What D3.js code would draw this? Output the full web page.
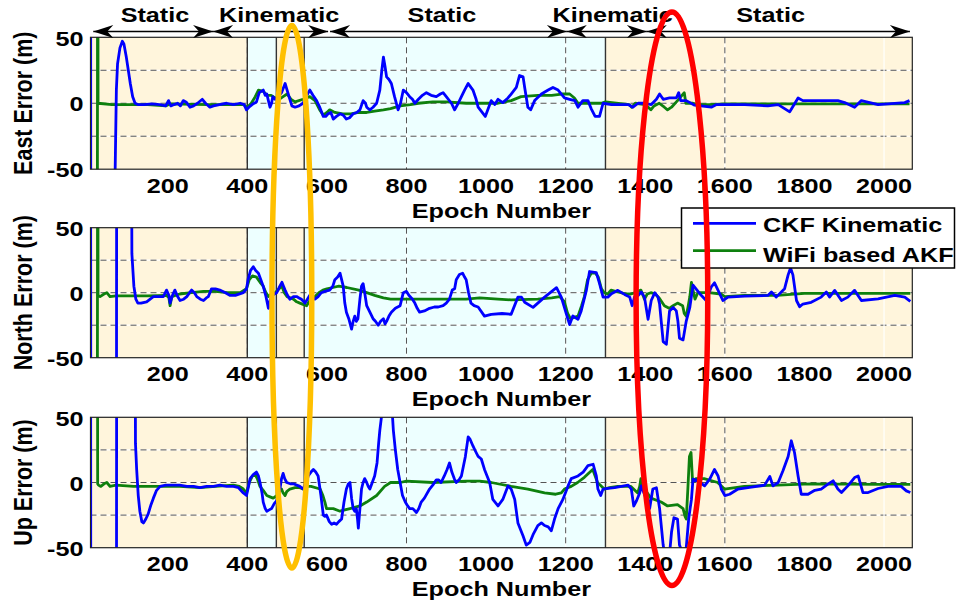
<!DOCTYPE html>
<html>
<head>
<meta charset="utf-8">
<script src="https://cdn.jsdelivr.net/npm/d3@7"></script>
<style>
  html, body { margin: 0; padding: 0; background: #fff; }
  svg { display: block; }
  text { font-family: "Liberation Sans", Arial, Helvetica, sans-serif; font-weight: bold; fill: #000; }
</style>
</head>
<body>
<svg id="chart" width="956" height="604"></svg>
<script>
// ---- data ---------------------------------------------------------------
const epochTicks = [200, 400, 600, 800, 1000, 1200, 1400, 1600, 1800, 2000];
const errorTicks = [-50, 0, 50];
const gridErrors = [-25, 0, 25];
const gridEpochs = [400, 800, 1200, 1600];
const faintGridEpochs = [2000];

// test phases (shaded spans)
const phaseBreaks = [6, 400, 473, 543, 1300, 2071];
const phaseKinds = ["static", "kinematic", "static", "kinematic", "static"];

// arrows above the first panel
const arrowNames = ["Static", "Kinematic", "Static", "Kinematic", "Static"];
const arrowFrom = [13, 314, 608, 1203, 1404];
const arrowTo = [314, 603, 1203, 1404, 2065];
const arrowLabelAt = [168, 480, 889, 1318, 1715];

const seriesNames = ["CKF Kinematic", "WiFi based AKF"];
const panelTitles = ["East Error (m)", "North Error (m)", "Up Error (m)"];

// East error [epoch, metres]
const eastCKF = [[6,300],[7,-300],[66,-300],[68,-50],[71,10],[74,30],[80,42],[86,47],[90,45],[96,35],[101,25],[106,15],[112,5],[118,0],[125,-1],[140,-1],[160,-0.5],[180,-1],[195,-2],[202,2],[208,-2],[216,-1],[225,0],[232,-2],[239,2],[246,1],[256,-3],[265,-2],[275,0],[287,3],[295,0],[306,-3],[315,-2],[330,-1],[348,0],[365,-1],[382,0],[392,-1],[398,-5],[404,-3],[412,-1],[423,1],[430,8],[440,10],[445,6],[449,7],[453,2],[457,-3],[461,0],[464,5],[470,3],[478,5],[486,8],[495,15],[500,10],[507,3],[512,-2],[520,-3],[530,-2],[540,0],[548,5],[557,10],[565,6],[574,2],[582,-3],[591,-10],[597,-10],[603,-8],[610,-7],[616,-12],[624,-10],[633,-8],[641,-9],[649,-12],[657,-11],[666,-8],[675,-7],[683,-5],[691,2],[697,0],[700,-3],[708,-5],[716,-3],[725,0],[733,10],[738,25],[742,35],[746,28],[750,20],[756,18],[762,15],[770,5],[779,-5],[785,0],[792,10],[800,8],[808,5],[815,3],[821,0],[830,3],[840,6],[850,8],[862,6],[875,5],[885,7],[892,8],[900,5],[913,0],[921,-5],[930,0],[938,5],[946,10],[955,15],[962,12],[967,10],[975,3],[980,-3],[998,-10],[1013,2],[1022,-1],[1030,3],[1042,0.5],[1055,4],[1063,7],[1076,12],[1084,21],[1093,20],[1097,12],[1105,-3],[1112,-5],[1122,2],[1139,7],[1156,10],[1168,12],[1181,10],[1197,4],[1210,3],[1223,2],[1231,-3],[1243,2],[1256,2],[1264,-4],[1274,-10],[1285,-10],[1294,0],[1315,-1],[1357,-1],[1369,-3],[1382,0],[1399,0],[1415,-1],[1428,3],[1436,7],[1445,3],[1461,4],[1478,4],[1484,8],[1489,2],[1503,2],[1524,-1.5],[1566,-3],[1579,-1],[1650,-1],[1708,-2],[1734,-1],[1763,-6.5],[1784,4],[1796,2],[1842,2],[1884,2],[1901,0.5],[1926,-3],[1943,2],[1985,-1],[2052,0.5],[2064,2]];
const eastAKF = [[6,-300],[23,-300],[24,300],[25,0],[60,-1],[150,-1],[195,-2],[205,-0.5],[300,-1],[390,-1],[400,-3],[410,0],[420,5],[428,10],[440,9],[450,6],[460,6],[470,4],[480,3],[490,5],[500,7],[510,3],[520,1],[540,3],[557,5],[570,2],[582,-5],[591,-9],[600,-7],[607,-5],[620,-7],[640,-8],[660,-8],[680,-7],[700,-7],[720,-6],[742,-5],[760,-4],[784,-2],[810,-1],[830,0],[866,1],[900,1],[950,0],[1030,0],[1063,2],[1088,5],[1130,6],[1165,6],[1190,7],[1210,7],[1222,4],[1231,0],[1290,0],[1300,1],[1360,-1],[1366,-3],[1375,0],[1400,-1],[1414,-5],[1422,-2],[1435,0],[1448,-3],[1456,-5],[1466,-3],[1481,2],[1498,8],[1502,0],[1520,0],[1532,-1],[1560,-1],[1600,-0.5],[2064,-0.5]];

// North error [epoch, metres]
const northCKF = [[6,300],[7,-300],[71,-300],[72,300],[107,300],[110,30],[115,5],[120,-5],[125,-8],[133,-8],[147,-7],[164,-3],[180,-3],[189,-3],[197,2],[203,-2],[206,-8],[212,-2],[218,2],[225,-3],[231,-6],[240,-5],[248,-3],[255,0],[260,2],[267,0],[273,-3],[282,-5],[290,-6],[297,-4],[302,-3],[306,0],[310,3],[320,3],[331,2],[345,0],[356,-2],[370,-2],[390,0],[398,3],[402,10],[408,17],[415,20],[421,17],[428,15],[434,10],[440,5],[447,-3],[453,-12],[457,-6],[461,-3],[468,-1],[474,0],[480,4],[487,8],[491,5],[495,2],[501,-2],[507,-5],[516,-3],[524,-3],[530,-4],[536,-5],[545,-8],[551,-5],[557,-2],[563,-4],[570,-5],[578,-3],[586,0],[595,1],[607,2],[615,5],[620,10],[627,12],[633,15],[637,10],[641,5],[645,-8],[649,-15],[655,-20],[662,-28],[666,-22],[670,-18],[674,-22],[678,-20],[683,-5],[687,5],[691,7],[695,0],[700,-10],[708,-15],[716,-20],[722,-22],[729,-25],[735,-22],[742,-20],[746,-24],[750,-22],[756,-18],[762,-15],[772,-12],[784,-10],[788,-5],[792,0],[800,1],[806,-2],[815,-5],[821,-8],[827,-12],[833,-15],[845,-14],[858,-12],[870,-11],[880,-11],[892,-10],[900,-8],[908,-5],[915,2],[921,3],[925,10],[933,14],[941,15],[946,12],[950,10],[956,0],[962,-8],[970,-10],[980,-11],[996,-18],[1013,-16.6],[1040,-16],[1063,-16.6],[1080,-3.4],[1089,-3.4],[1097,-7.4],[1118,-11.3],[1147,-3.4],[1177,3.9],[1189,-3.4],[1202,-16.6],[1210,-24.5],[1218,-17.9],[1231,-20.5],[1239,-14],[1252,1.8],[1260,16.3],[1277,15.5],[1285,7.1],[1294,-3.4],[1306,-3.4],[1315,-0.8],[1331,1.8],[1348,-1.3],[1361,-3.4],[1367,-10],[1373,-3.4],[1382,-2.1],[1390,0.5],[1398,-3.4],[1407,-20.5],[1415,-6],[1424,0],[1432,-3.4],[1436,-8.7],[1445,-37.6],[1453,-39.7],[1461,-14],[1470,-11.3],[1478,-14],[1482,-21.8],[1486,-35],[1495,-36.3],[1503,-21.8],[1512,-11.3],[1520,5.8],[1537,-0.8],[1553,-6],[1566,4.5],[1574,7.6],[1583,1.8],[1595,-6],[1608,-3.4],[1650,-2.6],[1708,-2.1],[1717,0.5],[1729,-3.4],[1750,3],[1759,13.7],[1765,19],[1771,13.7],[1780,-6],[1788,-10.8],[1796,-8.7],[1817,-7.4],[1842,-3.4],[1855,0.5],[1863,-3.4],[1876,1.8],[1893,-6],[1909,-3.4],[1926,1.8],[1943,-6],[1985,-4.7],[2027,-2.1],[2052,-3.4],[2066,-6.6]];
const northAKF = [[6,-300],[23,-300],[24,300],[25,-2],[30,-3],[40,-1],[47,0],[55,-3],[70,-2.5],[150,-2.5],[197,-2],[203,-4],[206,-10],[210,-3],[230,-1],[260,0],[290,1],[320,1],[350,0],[382,0],[398,3],[405,10],[413,13],[423,12],[432,8],[440,5],[447,0],[453,-3],[460,-1],[470,0],[480,3],[487,5],[493,0],[500,-3],[508,-4],[516,-5],[524,-7],[532,-8],[540,-9],[549,-10],[555,-7],[561,-5],[570,-3],[580,0],[590,2],[600,3],[615,4],[630,5],[650,4],[680,2],[700,0],[720,-2],[742,-4],[760,-5],[800,-5],[866,-5],[950,-5],[984,-4],[1030,-5],[1063,-5.5],[1130,-5],[1165,-4],[1185,-3],[1197,-7],[1205,-16],[1212,-20],[1222,-19],[1231,-18],[1240,-10],[1247,-3],[1255,10],[1264,15],[1275,15],[1282,12],[1290,3],[1297,0],[1306,-1],[1314,2],[1325,1],[1339,0],[1350,-1],[1364,-1],[1375,0],[1389,2],[1393,-1],[1398,-5],[1405,-1],[1414,0],[1425,-1],[1435,-4],[1448,-10],[1460,-12],[1470,-10],[1481,-8],[1494,-10],[1498,-16],[1503,-18],[1508,-10],[1512,-3],[1516,8],[1520,2],[1525,-5],[1532,0],[1560,0],[1590,-1],[1600,-3],[1650,-2],[1732,-2],[1800,-0.5],[1900,-0.5],[2066,-0.5]];

// Up error [epoch, metres]
const upCKF = [[6,300],[7,-300],[71,-300],[72,300],[117,300],[119,30],[122,10],[126,-10],[130,-22],[135,-30],[139,-31],[145,-28],[151,-24],[158,-17],[164,-12],[172,-6],[181,-3],[195,-2],[214,-2],[230,-2],[248,-3],[265,-3],[281,-4],[298,-3],[315,-3],[331,-2],[348,-3],[365,-3],[378,-4],[390,-8],[398,-10],[403,-3],[407,3],[415,6],[423,8],[428,5],[432,0],[437,-8],[440,-15],[445,-20],[449,-22],[455,-21],[461,-20],[468,-16],[474,-14],[478,-10],[482,-5],[486,3],[490,7],[494,3],[499,0],[508,-1],[516,-1],[524,-2],[532,-3],[540,-5],[548,0],[553,5],[560,8],[566,10],[572,8],[578,5],[585,-10],[591,-25],[595,-26],[599,-25],[606,-30],[612,-32],[618,-31],[624,-32],[630,-30],[637,-28],[643,-15],[649,-5],[654,-1],[658,0],[662,-12],[666,-20],[670,-22],[674,-20],[677,-28],[679,-35],[683,-20],[687,-5],[691,0],[695,3],[700,0],[704,-3],[708,-5],[714,0],[720,5],[726,15],[730,30],[733,40],[737,50],[742,60],[762,60],[765,50],[767,40],[772,25],[778,10],[784,0],[790,-10],[797,-15],[803,-18],[808,-20],[816,-20],[825,-23],[831,-20],[837,-15],[845,-12],[858,-5],[866,-2],[875,2],[881,2],[887,0],[895,5],[902,10],[908,15],[914,8],[920,3],[925,0],[932,2],[938,5],[948,20],[955,35],[960,33],[967,28],[975,23],[980,20],[988,18],[996,10],[1009,0],[1017,-13],[1030,-18],[1042,-13],[1055,-2.6],[1063,-5],[1072,-13],[1080,-31],[1093,-41],[1101,-48],[1110,-46],[1118,-40],[1130,-33],[1139,-31],[1147,-33],[1156,-34],[1164,-37],[1172,-28],[1181,-20],[1193,-13],[1206,-2.6],[1214,3],[1231,5],[1244,8],[1256,13],[1269,14],[1277,5],[1281,-5],[1288,-10],[1294,-5],[1306,-4.5],[1323,-4],[1340,-3],[1357,-2],[1365,-5],[1371,-18],[1378,-14],[1386,-8],[1390,-2.6],[1399,-10],[1407,-13],[1411,-20],[1419,-5],[1428,-4],[1436,-20],[1445,-48],[1449,-55],[1461,-55],[1466,-38],[1472,-27],[1481,-28],[1486,-48],[1495,-55],[1503,-50],[1509,-28],[1516,-13],[1520,2.6],[1533,1.3],[1549,-2.6],[1562,2.6],[1574,10],[1583,5],[1591,-5],[1600,-10],[1612,-9],[1633,-5],[1658,-4],[1700,-2],[1713,4.6],[1721,-2.6],[1734,0],[1746,9],[1759,20],[1767,32],[1775,23],[1784,5],[1792,-9],[1809,-9],[1826,-6],[1842,-5],[1859,-1.3],[1872,1.3],[1884,-5],[1893,-7.7],[1909,-2.6],[1926,3.8],[1935,5],[1947,-7.7],[1960,-7.7],[1985,-4.6],[2010,-3],[2043,-3],[2056,-6.4],[2066,-7.7]];
const upAKF = [[6,300],[23,300],[24,-1],[26,-2],[32,-3],[40,-1],[47,0],[55,-3],[70,-2],[114,-3],[197,-3],[230,-3],[281,-4],[320,-3],[365,-2],[380,-3],[390,-5],[398,-8],[405,0],[413,5],[420,6],[425,3],[432,-3],[440,-6],[449,-10],[457,-11],[465,-12],[474,-10],[480,-7],[486,-5],[490,-8],[495,-10],[499,-7],[507,-5],[520,-4],[532,-4],[540,-5],[549,-3],[560,-3],[583,-5],[590,-10],[595,-15],[599,-20],[616,-20],[633,-22],[645,-21],[658,-20],[683,-18],[700,-15],[725,-10],[745,-3],[760,0],[784,0],[800,1],[866,0],[950,1],[984,1],[1013,0],[1063,-3],[1105,-5],[1147,-8],[1175,-9],[1189,-8],[1197,-5],[1214,-3],[1230,0],[1247,4],[1268,10],[1280,0],[1297,-5],[1310,-4],[1331,-3],[1364,-3],[1381,-8],[1386,-3],[1389,3],[1394,-3],[1414,-12],[1440,-15],[1456,-18],[1481,-17],[1495,-20],[1500,-26],[1503,-28],[1507,-5],[1511,20],[1515,23],[1519,0],[1527,3],[1548,3],[1582,0],[1599,-5],[1649,-3],[1732,-2],[1816,-1],[1984,-1.5],[2066,-1.5]];

// highlighted epoch spans (ellipse centre / half-width in epochs)
const highlightCentre = [512, 1467];
const highlightHalfWidth = [50, 90];
const highlightColours = ["#FFC000", "#FF0000"];

// ---- layout -------------------------------------------------------------
const svg = d3.select("#chart");
const FONT = 21, STRETCH = 1.2;
const colours = { ckf: "#0000FF", akf: "#0E800E", static: "#FFF5DC", kinematic: "#EDFFFF" };

const x = d3.scaleLinear().domain([6, 2071]).range([90.5, 912.3]);

const panels = [
  { title: panelTitles[0], top: 37.3, bottom: 169.2, ckf: eastCKF, akf: eastAKF },
  { title: panelTitles[1], top: 227.7, bottom: 357.7, ckf: northCKF, akf: northAKF },
  { title: panelTitles[2], top: 417.3, bottom: 547.7, ckf: upCKF, akf: upAKF }
];

// text helper: bold, slightly wide lettering
function label(g, str, px, py, anchor, size, rotate) {
  return g.append("text")
    .attr("transform", `translate(${px},${py}) scale(${STRETCH},1)` + (rotate ? " rotate(-90)" : ""))
    .attr("text-anchor", anchor)
    .attr("font-size", size || FONT)
    .text(str);
}

panels.forEach((p, i) => {
  const y = d3.scaleLinear().domain([-50, 50]).range([p.bottom, p.top]);
  const g = svg.append("g");
  const [x0, x1] = x.range();

  // phase shading
  phaseKinds.forEach((k, j) => {
    g.append("rect")
      .attr("x", x(phaseBreaks[j])).attr("y", p.top)
      .attr("width", x(phaseBreaks[j + 1]) - x(phaseBreaks[j]))
      .attr("height", p.bottom - p.top)
      .attr("fill", colours[k]);
  });

  // grid
  const grid = g.append("g");
  gridErrors.forEach(v => {
    grid.append("line").attr("x1", x0).attr("x2", x1).attr("y1", y(v)).attr("y2", y(v))
      .attr("stroke", "#fff").attr("stroke-width", 1.2);
    grid.append("line").attr("x1", x0).attr("x2", x1).attr("y1", y(v)).attr("y2", y(v))
      .attr("stroke", "#555").attr("stroke-width", 1).attr("stroke-dasharray", "6,4");
  });
  faintGridEpochs.concat(gridEpochs).forEach(e => {
    grid.append("line").attr("x1", x(e)).attr("x2", x(e)).attr("y1", p.top).attr("y2", p.bottom)
      .attr("stroke", "#fff").attr("stroke-width", 1.2);
  });
  gridEpochs.forEach(e => {
    grid.append("line").attr("x1", x(e)).attr("x2", x(e)).attr("y1", p.top).attr("y2", p.bottom)
      .attr("stroke", "#555").attr("stroke-width", 1).attr("stroke-dasharray", "6,4");
  });

  // phase boundaries
  phaseBreaks.slice(1, -1).forEach(e => {
    g.append("line").attr("x1", x(e)).attr("x2", x(e)).attr("y1", p.top).attr("y2", p.bottom)
      .attr("stroke", "#333").attr("stroke-width", 1.4);
  });

  // series
  const clipId = "clip" + i;
  svg.append("clipPath").attr("id", clipId).append("rect")
    .attr("x", x0).attr("y", p.top).attr("width", x1 - x0).attr("height", p.bottom - p.top);
  const line = d3.line().x(d => x(d[0])).y(d => y(d[1]));
  const lines = g.append("g").attr("clip-path", `url(#${clipId})`);
  lines.append("path").datum(p.akf).attr("d", line)
    .attr("fill", "none").attr("stroke", colours.akf).attr("stroke-width", 2.8)
    .attr("stroke-linejoin", "round");
  lines.append("path").datum(p.ckf).attr("d", line)
    .attr("fill", "none").attr("stroke", colours.ckf).attr("stroke-width", 2.8)
    .attr("stroke-linejoin", "round");

  // frame
  g.append("rect").attr("x", x0).attr("y", p.top).attr("width", x1 - x0).attr("height", p.bottom - p.top)
    .attr("fill", "none").attr("stroke", "#222").attr("stroke-width", 1.2);

  // tick labels
  errorTicks.forEach(v => label(g, String(v), 83.5, y(v) + 8.2, "end"));
  epochTicks.forEach(e => label(g, String(e), x(e), p.bottom + 23.5, "middle"));

  // axis titles
  label(g, "Epoch Number", (x0 + x1) / 2, p.bottom + 48.5, "middle");
  label(g, p.title, 31.5, (p.top + p.bottom) / 2, "middle", 21.5, true);
});

// phase arrows above the first panel
const arrowY = 31.5;
const arrows = svg.append("g");
function head(px, dir) {
  // dir = +1 points right, -1 points left
  const L = 20, H = 6.5, N = 14;
  return `M${px},${arrowY}L${px - dir * L},${arrowY - H}L${px - dir * N},${arrowY}L${px - dir * L},${arrowY + H}Z`;
}
arrowNames.forEach((name, j) => {
  const a = x(arrowFrom[j]), b = x(arrowTo[j]);
  arrows.append("line").attr("x1", a).attr("x2", b).attr("y1", arrowY).attr("y2", arrowY)
    .attr("stroke", "#000").attr("stroke-width", 1.3);
  arrows.append("path").attr("d", head(a, -1)).attr("fill", "#000");
  arrows.append("path").attr("d", head(b, 1)).attr("fill", "#000");
  label(arrows, name, x(arrowLabelAt[j]), 22.3, "middle");
});

// legend
const lg = svg.append("g");
lg.append("rect").attr("x", 681.5).attr("y", 208).attr("width", 273).attr("height", 60)
  .attr("fill", "#fff").attr("stroke", "#000").attr("stroke-width", 1.5);
const legendRows = [{ c: colours.ckf, ly: 223.3, ty: 231.7 }, { c: colours.akf, ly: 250.7, ty: 261.5 }];
seriesNames.forEach((n, j) => {
  const r = legendRows[j];
  lg.append("line").attr("x1", 693).attr("x2", 756).attr("y1", r.ly).attr("y2", r.ly)
    .attr("stroke", r.c).attr("stroke-width", 2.8);
  label(lg, n, 763, r.ty, "start");
});

// highlight ellipses over the interesting epochs
const ellipseCy = [296.7, 298.7];
const ellipseRy = [271.3, 286.8];
highlightCentre.forEach((c, j) => {
  svg.append("ellipse")
    .attr("cx", x(c)).attr("cy", ellipseCy[j])
    .attr("rx", x(c + highlightHalfWidth[j]) - x(c)).attr("ry", ellipseRy[j])
    .attr("fill", "none").attr("stroke", highlightColours[j]).attr("stroke-width", 5.5);
});
</script>
</body>
</html>
